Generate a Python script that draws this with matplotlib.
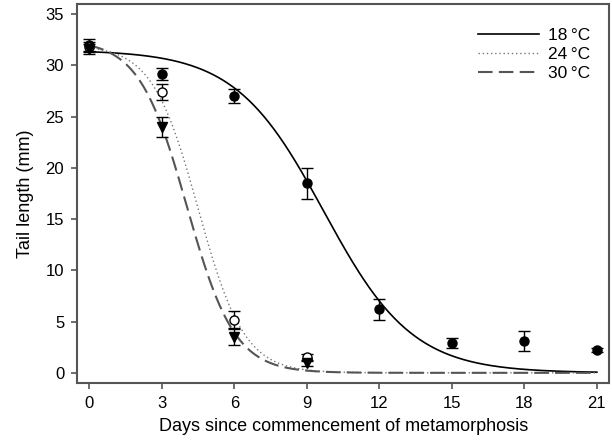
import numpy as np
import matplotlib
matplotlib.use("Agg")
import matplotlib.pyplot as plt

plt.rcParams['font.family'] = ['Liberation Sans', 'DejaVu Sans']

days_18 = [0, 3, 6, 9, 12, 15, 18, 21]
tail_18 = [32.0, 29.2, 27.0, 18.5, 6.2, 2.9, 3.1, 2.2]
err_18 = [0.6, 0.6, 0.7, 1.5, 1.0, 0.5, 1.0, 0.2]

days_24 = [0, 3, 6, 9]
tail_24 = [31.8, 27.4, 5.2, 1.5]
err_24 = [0.5, 0.8, 0.8, 0.3]

days_30 = [0, 3, 6, 9]
tail_30 = [31.6, 24.0, 3.5, 1.0]
err_30 = [0.5, 1.0, 0.8, 0.3]

# fitted logistic curves: (asymptote, midpoint, rate)
fit_18 = (31.5, 9.7, 0.545)
fit_24 = (32.0, 4.5, 1.05)
fit_30 = (32.5, 4.03, 1.01)

labels = ['18\u2009°C', '24\u2009°C', '30\u2009°C']


def logistic(x, p):
    a, x0, k = p
    return a / (1 + np.exp(k * (x - x0)))


fig = plt.figure(figsize=(6.12, 4.47), dpi=100)
ax = fig.add_axes([0.1265, 0.143, 0.8685, 0.848])

xs = np.linspace(0, 21, 400)
ax.plot(xs, logistic(xs, fit_18), color='black', lw=1.2, label=labels[0])
ax.plot(xs, logistic(xs, fit_24), color='#777777', lw=1.0, ls=(0, (1, 2)), label=labels[1])
ax.plot(xs, logistic(xs, fit_30), color='#555555', lw=1.5, ls=(0, (7, 3)), label=labels[2])

ax.errorbar(days_18, tail_18, yerr=err_18, fmt='o', color='black', ms=6.5,
            capsize=4.5, elinewidth=1, capthick=1)
ax.errorbar(days_24, tail_24, yerr=err_24, fmt='o', mfc='white', mec='black', ecolor='black',
            ms=6.5, capsize=4.5, elinewidth=1, capthick=1)
ax.errorbar(days_30, tail_30, yerr=err_30, fmt='v', color='black', ms=6.5,
            capsize=4.5, elinewidth=1, capthick=1)

ax.set_xlim(-0.5, 21.5)
ax.set_ylim(-1, 36)
ax.set_xticks(range(0, 22, 3))
ax.set_yticks(range(0, 36, 5))
ax.tick_params(labelsize=12, direction='out', length=4.5, width=1.2, pad=5, color='#555555')
for s in ax.spines.values():
    s.set_color('#555555')
    s.set_linewidth(1.5)

ax.set_xlabel('Days since commencement of metamorphosis', fontsize=13, labelpad=5)
ax.set_ylabel('Tail length (mm)', fontsize=13, labelpad=8)

ax.legend(loc='upper right', frameon=False, fontsize=12.5, handlelength=3.5,
          handletextpad=0.5, labelspacing=0.2, borderaxespad=1.0,
          bbox_to_anchor=(1.01, 1.0))

fig.savefig('out.png', dpi=100)
